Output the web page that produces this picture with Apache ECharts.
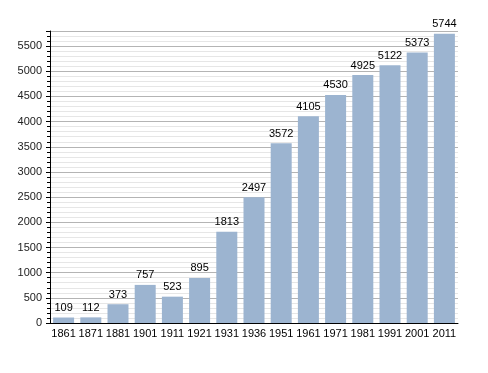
<!DOCTYPE html>
<html><head><meta charset="utf-8">
<script src="https://cdn.jsdelivr.net/npm/echarts@6/dist/echarts.min.js"></script>
<style>html,body{margin:0;padding:0;background:#fff}#c{width:488px;height:373px}</style>
</head><body><div id="c"></div>
<script>
var years = ['1861','1871','1881','1901','1911','1921','1931','1936','1951','1961','1971','1981','1991','2001','2011'];
var population = [109,112,373,757,523,895,1813,2497,3572,4105,4530,4925,5122,5373,5744];
var chart = echarts.init(document.getElementById('c'), null, {renderer:'canvas'});
chart.setOption({
  animation:false,
  grid:{left:50,right:30,top:31,bottom:50},
  xAxis:{type:'category',data:years,
    axisLine:{lineStyle:{color:'#000',width:1}},
    axisTick:{show:false},
    axisLabel:{interval:0,color:'#000',fontSize:11,fontFamily:'Liberation Sans, Arial',margin:5}},
  yAxis:{type:'value',min:0,max:5800,interval:500,
    axisLine:{show:true,lineStyle:{color:'#000'}},
    axisTick:{show:true,length:4,lineStyle:{color:'#000'}},
    minorTick:{show:true,splitNumber:5,length:3,lineStyle:{color:'#000'}},
    splitLine:{lineStyle:{color:'#b4b4b4',width:1}},
    minorSplitLine:{show:true,lineStyle:{color:'#e6e6e6',width:1}},
    axisLabel:{color:'#222',fontSize:11,fontFamily:'Liberation Sans, Arial',showMaxLabel:false,margin:8,
      formatter:function(v){return String(v);}}},
  series:[{type:'bar',data:population,barWidth:21,
    itemStyle:{color:'#9cb4d0'},
    label:{show:true,position:'top',color:'#000',fontSize:11,fontFamily:'Liberation Sans, Arial',distance:4}}]
});
</script></body></html>
